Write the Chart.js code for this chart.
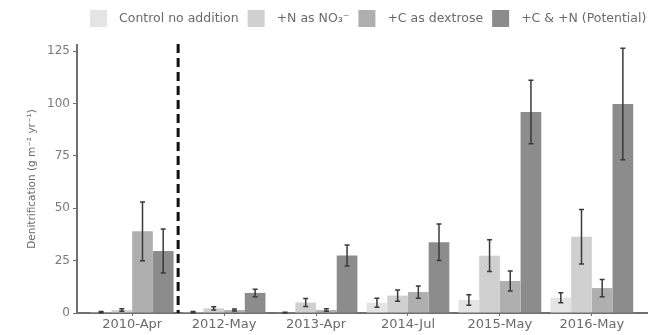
<!DOCTYPE html>
<html>
<head>
<meta charset="utf-8">
<script src="https://cdn.jsdelivr.net/npm/chart.js@4"></script>
<style>
  html, body { margin: 0; padding: 0; background: #fff; }
  #wrap { width: 658px; height: 335px; position: relative; }
</style>
</head>
<body>
<div id="wrap"><canvas id="denitChart"></canvas></div>
<script>
// Données
const dateLabels = ['2010-Apr', '2012-May', '2013-Apr', '2014-Jul', '2015-May', '2016-May'];
const seriesNames = ['Control no addition', '+N as NO\u2083\u207B', '+C as dextrose', '+C & +N (Potential)'];

const controlValues = [0.4, 0.4, 0.2, 4.9, 6.2, 7.3];
const controlErr    = [0.3, 0.3, 0.2, 2.1, 2.5, 2.4];
const nitrateValues = [1.4, 2.2, 5.0, 8.3, 27.4, 36.4];
const nitrateErr    = [0.6, 0.8, 1.9, 2.7, 7.6, 13.0];
const dextroseValues = [39.0, 1.4, 1.4, 10.0, 15.3, 11.9];
const dextroseErr    = [14.0, 0.5, 0.6, 2.9, 4.8, 4.1];
const potentialValues = [29.6, 9.6, 27.5, 33.8, 96.0, 99.8];
const potentialErr    = [10.5, 1.8, 5.0, 8.7, 15.2, 26.6];

const yTicks = [0, 25, 50, 75, 100, 125];

const colors = ['#e4e4e4', '#d0d0d0', '#afafaf', '#8c8c8c'];
const textColor = '#6a6a6a';
const axisColor = '#707070';
const fontFamily = '"DejaVu Sans", Verdana, sans-serif';

const seriesValues = [controlValues, nitrateValues, dextroseValues, potentialValues];
const seriesErr = [controlErr, nitrateErr, dextroseErr, potentialErr];

const datasets = seriesNames.map((name, s) => ({
  label: name,
  data: seriesValues[s].map((v, i) => ({ x: i, y: v })),
  errors: seriesErr[s],
  backgroundColor: colors[s],
  borderWidth: 0,
  categoryPercentage: 0.9,
  barPercentage: 1.0
}));

// Barres d'erreur
const errorBarPlugin = {
  id: 'errorBars',
  afterDatasetsDraw(chart) {
    const ctx = chart.ctx;
    const yScale = chart.scales.y;
    ctx.save();
    ctx.strokeStyle = '#3a3a3a';
    ctx.lineWidth = 1.5;
    chart.data.datasets.forEach((ds, d) => {
      const meta = chart.getDatasetMeta(d);
      meta.data.forEach((bar, i) => {
        const v = ds.data[i].y;
        const e = ds.errors[i];
        const yHi = yScale.getPixelForValue(v + e);
        const yLo = yScale.getPixelForValue(Math.max(0, v - e));
        const cap = 2.5;
        ctx.beginPath();
        ctx.moveTo(bar.x, yHi);
        ctx.lineTo(bar.x, yLo);
        ctx.moveTo(bar.x - cap, yHi);
        ctx.lineTo(bar.x + cap, yHi);
        ctx.moveTo(bar.x - cap, yLo);
        ctx.lineTo(bar.x + cap, yLo);
        ctx.stroke();
      });
    });
    ctx.restore();
  }
};

// Ligne verticale pointillée entre 2010 et 2012
const dashedLinePlugin = {
  id: 'dashedLine',
  afterDatasetsDraw(chart) {
    const ctx = chart.ctx;
    const xPos = chart.scales.x.getPixelForValue(0.5);
    const area = chart.chartArea;
    ctx.save();
    ctx.beginPath();
    ctx.setLineDash([9, 5]);
    ctx.lineWidth = 3;
    ctx.strokeStyle = '#111';
    ctx.moveTo(xPos, area.top - 1);
    ctx.lineTo(xPos, area.bottom);
    ctx.stroke();
    ctx.restore();
  }
};

// Légende dessinée à la main en haut
const legendPlugin = {
  id: 'topLegend',
  afterDraw(chart) {
    const ctx = chart.ctx;
    ctx.save();
    ctx.font = '12.5px ' + fontFamily;
    ctx.textBaseline = 'middle';
    let x = 90;
    const yMid = 18.5;
    chart.data.datasets.forEach(ds => {
      ctx.fillStyle = ds.backgroundColor;
      ctx.fillRect(x, yMid - 8.5, 17, 17);
      ctx.fillStyle = textColor;
      ctx.fillText(ds.label, x + 29, yMid);
      x += 29 + ctx.measureText(ds.label).width + 9;
    });
    ctx.restore();
  }
};

const ctx = document.getElementById('denitChart').getContext('2d');
new Chart(ctx, {
  type: 'bar',
  data: { datasets },
  options: {
    responsive: true,
    maintainAspectRatio: false,
    animation: false,
    layout: { padding: { top: 45, right: 11, left: 0, bottom: 0 } },
    plugins: {
      legend: { display: false },
      tooltip: { enabled: false }
    },
    scales: {
      x: {
        type: 'linear',
        min: -0.6,
        max: 5.6,
        offset: false,
        afterBuildTicks(scale) {
          scale.ticks = dateLabels.map((l, i) => ({ value: i }));
        },
        afterFit(scale) { scale.height = 22; },
        grid: {
          offset: false,
          drawOnChartArea: false,
          drawTicks: true,
          tickLength: 3,
          color: axisColor
        },
        border: { display: true, color: axisColor, width: 2 },
        ticks: {
          autoSkip: false,
          maxRotation: 0,
          padding: 1,
          color: textColor,
          font: { family: fontFamily, size: 13 },
          callback: value => dateLabels[Math.round(value)]
        }
      },
      y: {
        min: 0,
        max: 128,
        afterBuildTicks(scale) {
          scale.ticks = yTicks.map(v => ({ value: v }));
        },
        afterFit(scale) { scale.width = 77; },
        grid: {
          drawOnChartArea: false,
          drawTicks: true,
          tickLength: 4,
          color: axisColor
        },
        border: { display: true, color: axisColor, width: 2 },
        ticks: {
          padding: 3,
          color: '#7a7a7a',
          font: { family: fontFamily, size: 12 }
        },
        title: {
          display: true,
          text: 'Denitrification (g m\u207B\u00B2 yr\u207B\u00B9)',
          color: textColor,
          font: { family: fontFamily, size: 10.5 },
          padding: { top: 26, bottom: 0 }
        }
      }
    }
  },
  plugins: [errorBarPlugin, dashedLinePlugin, legendPlugin]
});
</script>
</body>
</html>
